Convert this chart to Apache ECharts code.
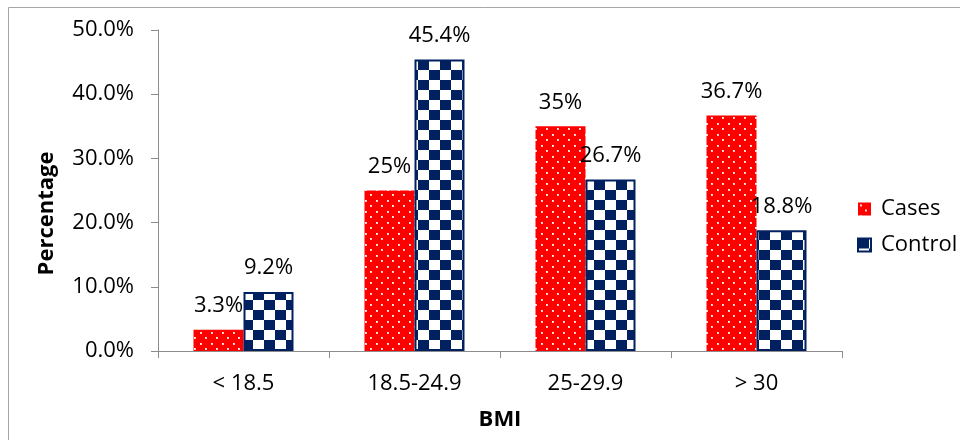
<!DOCTYPE html>
<html>
<head>
<meta charset="utf-8">
<script src="https://cdn.jsdelivr.net/npm/echarts@6/dist/echarts.min.js"></script>
<style>
  html, body { margin: 0; padding: 0; background: #ffffff; }
  #chart { width: 960px; height: 440px; }
</style>
</head>
<body>
<div id="chart"></div>
<script>
// BMI groups and percentage of cases / controls in each group
const categories = ['< 18.5', '18.5-24.9', '25-29.9', '> 30'];
const casesValues = [3.3, 25, 35, 36.7];
const controlValues = [9.2, 45.4, 26.7, 18.8];
const yTicks = [0, 10, 20, 30, 40, 50];

const FONT = '"Open Sans", "Noto Sans", sans-serif';

// Red fill sprinkled with small white dots
function dotPattern() {
  const c = document.createElement('canvas');
  c.width = 11; c.height = 11;
  const g = c.getContext('2d');
  g.fillStyle = '#ff0000';
  g.fillRect(0, 0, 11, 11);
  g.fillStyle = 'rgba(255,200,200,1)';
  g.fillRect(2, 2, 2, 2);
  g.fillRect(7, 7, 2, 2);
  g.fillStyle = '#ffffff';
  g.fillRect(2, 2, 1, 1);
  g.fillRect(7, 7, 1, 1);
  return c;
}

// Navy / white checkerboard
function checkerPattern() {
  const c = document.createElement('canvas');
  c.width = 22; c.height = 20;
  const g = c.getContext('2d');
  g.fillStyle = '#ffffff';
  g.fillRect(0, 0, 22, 20);
  g.fillStyle = '#002060';
  g.fillRect(0, 0, 11, 10);
  g.fillRect(11, 10, 11, 10);
  return c;
}

const chart = echarts.init(document.getElementById('chart'), null, { renderer: 'canvas' });

const labelStyle = {
  show: true,
  position: 'top',
  distance: 13,
  color: '#000000',
  fontFamily: FONT,
  fontSize: 22,
  formatter: p => p.value + '%'
};

chart.setOption({
  animation: false,
  backgroundColor: '#ffffff',
  graphic: [{
    type: 'rect',
    shape: { x: 8.5, y: 7.5, width: 980, height: 460 },
    style: { fill: 'none', stroke: '#a6a6a6', lineWidth: 1 },
    silent: true
  }],
  grid: { left: 158, right: 118, top: 30, bottom: 89 },
  legend: {
    orient: 'vertical',
    left: 852,
    top: 193,
    itemWidth: 13,
    itemHeight: 13,
    itemGap: 14,
    icon: 'rect',
    textStyle: { fontFamily: FONT, fontSize: 22, color: '#000000', padding: [0, 0, 0, 5] },
    data: ['Cases', 'Control']
  },
  xAxis: {
    type: 'category',
    data: categories,
    boundaryGap: true,
    name: 'BMI',
    nameLocation: 'middle',
    nameGap: 58,
    nameTextStyle: { fontFamily: FONT, fontSize: 22, fontWeight: 'bold', color: '#000000' },
    axisLine: { lineStyle: { color: '#8c8c8c', width: 1 } },
    axisTick: { show: true, length: 7, lineStyle: { color: '#8c8c8c' } },
    axisLabel: { margin: 22, fontFamily: FONT, fontSize: 22, color: '#000000' }
  },
  yAxis: {
    type: 'value',
    min: yTicks[0],
    max: yTicks[yTicks.length - 1],
    interval: yTicks[1] - yTicks[0],
    name: 'Percentage',
    nameLocation: 'middle',
    nameGap: 100,
    nameTextStyle: { fontFamily: FONT, fontSize: 22, fontWeight: 'bold', color: '#000000', padding: [0, 46, 0, 0] },
    splitLine: { show: false },
    axisLine: { show: true, lineStyle: { color: '#8c8c8c', width: 1 } },
    axisTick: { show: true, length: 7, lineStyle: { color: '#8c8c8c' } },
    axisLabel: {
      margin: 24,
      fontFamily: FONT,
      fontSize: 22,
      color: '#000000',
      formatter: v => v.toFixed(1) + '%'
    }
  },
  series: [
    {
      name: 'Cases',
      type: 'bar',
      data: casesValues,
      barWidth: 50,
      barGap: '0%',
      itemStyle: { color: { image: dotPattern(), repeat: 'repeat' } },
      label: labelStyle
    },
    {
      name: 'Control',
      type: 'bar',
      data: controlValues,
      barWidth: 50,
      itemStyle: {
        color: { image: checkerPattern(), repeat: 'repeat' },
        borderColor: '#002060',
        borderWidth: 2
      },
      label: labelStyle
    }
  ]
});
</script>
</body>
</html>
